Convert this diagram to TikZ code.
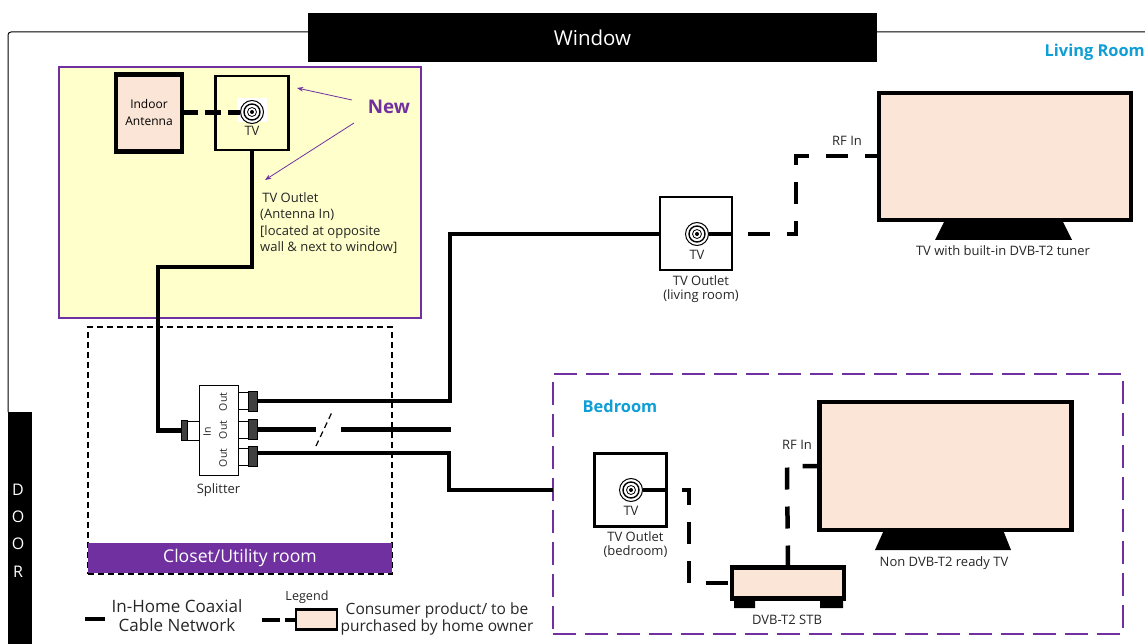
\documentclass[tikz,border=0pt]{standalone}
\usepackage{fontspec}
\setmainfont{Open Sans}
\usetikzlibrary{arrows.meta,positioning}
\definecolor{HomePurple}{HTML}{7030A0}
\definecolor{HomeCyan}{HTML}{0F9ED5}
\definecolor{HomeYellow}{HTML}{FFFFCC}
\definecolor{HomePeach}{HTML}{FBE5D6}
\tikzset{
  homelabel/.style={font=\fontsize{13}{14}\selectfont,align=center,inner sep=0pt,text=black!85},
  homeroom/.style={homelabel,font=\fontsize{16.4}{18}\bfseries\selectfont,text=HomeCyan},
  homeoutlet/.style={draw,line width=2.8pt,fill=white,minimum width=72pt,minimum height=73pt,inner sep=0pt,outer sep=0pt},
  homeproduct/.style={draw,line width=4.5pt,fill=HomePeach,inner sep=0pt,outer sep=0pt},
  homesocket/.style={circle,fill=white,minimum size=24pt,inner sep=0pt,outer sep=0pt},
  homeport/.style={draw,line width=.8pt,fill=white,inner sep=0pt,outer sep=0pt},
  homeplug/.style={fill=black!75,draw=black,line width=1pt,minimum width=9pt,minimum height=20pt,inner sep=0pt,outer sep=0pt},
  homecable/.style={line width=4.5pt,draw=black},
  homedash/.style={line width=4.5pt,draw=black,dash pattern=on 22pt off 17pt},
  homenew/.style={-{Stealth[length=2.2mm]},draw=HomePurple,line width=.8pt}
}
\begin{document}
\begin{tikzpicture}[x=1pt,y=-1pt]
        \useasboundingbox (0,0) rectangle (1145,644);
        % walls
        \draw[line width=1pt,rounded corners=3pt] (1145,32) -- (8,32) -- (8,412);
        \node[fill=black,minimum width=569pt,minimum height=49pt,text=white,inner sep=0pt,font=\fontsize{20.5}{22}\selectfont] (window) at (592.5,37.5) {Window};
        \node[fill=black,minimum width=24pt,minimum height=232pt,inner sep=0pt] (door) at (20,528) {};
        \foreach \letter/\ypos in {D/490,O/517,O/544,R/572}
          \node[text=white,inner sep=0pt,font=\fontsize{16}{18}\selectfont] at (18,\ypos) {\letter};
        \node[homeroom,anchor=east] (livinglabel) at (1145,52) {Living Room};
        % closet and yellow corner
        \node[draw,dash pattern=on 6pt off 4pt,line width=1.2pt,minimum width=304pt,minimum height=247pt,inner sep=0pt] (closet) at (240,450.5) {};
        \node[fill=HomePurple,minimum width=304pt,minimum height=30pt,inner sep=0pt,text=white,font=\fontsize{17.6}{20}\selectfont] (closetbar) at (240,558) {Closet/Utility room};
        \node[draw=HomePurple,fill=HomeYellow,line width=2pt,minimum width=362pt,minimum height=251pt,inner sep=0pt] (newarea) at (240,192.5) {};
        \node[font=\fontsize{18.8}{20}\bfseries\selectfont,text=HomePurple,inner sep=0pt] (newlabel) at (389,107) {New};
        \node[homeproduct,minimum width=66pt,minimum height=77pt,align=center,font=\fontsize{12}{17}\selectfont] (antenna) at (149,113) {Indoor\\Antenna};
        \node[homeoutlet,fill=HomeYellow,minimum height=74pt,minimum width=73pt] (outletnew) at (252,113) {};
        \node[fill=white,minimum width=30pt,minimum height=24pt,inner sep=0pt] (socketbg) at (252,110) {};
        \node[homesocket] (socketnew) at (252,112) {};
        \node[homelabel,below=2pt of socketnew] (tvnew) {TV};
        \node[homelabel,align=left,anchor=north west,font=\fontsize{13}{16.5}\selectfont] (outletnote) at (260,192) {\,TV Outlet\\(Antenna In)\\{[located at opposite}\\wall \& next to window{]}};
        \coordinate (newtipA) at (297,88);
        \coordinate (newtipB) at (265,180);
        \coordinate (newtailA) at (352,100);
        \coordinate (newtailB) at (354,123);
        \draw[homenew] (newtailA) -- (newtipA);
        \draw[homenew] (newtailB) -- (newtipB);
        % splitter
        \node[homeport,minimum width=39pt,minimum height=90pt] (splitter) at (218.5,430) {};
        \node[homelabel,below=8pt of splitter] (splitterlabel) {Splitter};
        \node[homelabel,rotate=90,font=\fontsize{10.5}{12}\selectfont] (inlabel) at (207,432) {In};
        \node[homelabel,rotate=90,font=\fontsize{10.5}{12}\selectfont] (outlabelA) at (223,402) {Out};
        \node[homelabel,rotate=90,font=\fontsize{10.5}{12}\selectfont] (outlabelB) at (223,430) {Out};
        \node[homelabel,rotate=90,font=\fontsize{10.5}{12}\selectfont] (outlabelC) at (223,458) {Out};
        \foreach \portname/\ypos in {A/401,B/429.5,C/456.5} {
          \node[homeport,minimum width=10pt,minimum height=17pt] (port\portname) at (243,\ypos) {};
          \node[homeplug] (plug\portname) at (252.5,\ypos) {};
        }
        \node[homeport,minimum width=13pt,minimum height=19pt] (portin) at (192.5,430.5) {};
        \node[homeplug,minimum width=6pt] (plugin) at (184,430.5) {};
        % living room
        \node[homeoutlet] (outletliving) at (696,233.5) {};
        \node[homesocket] (socketliving) at (697,234) {};
        \node[homelabel,below=4pt of socketliving] (tvliving) {TV};
        \node[homelabel,below=5pt of outletliving,xshift=5pt] (outletlivinglabel) {TV Outlet\\(living room)};
        \node[homeproduct,minimum width=252pt,minimum height=127pt] (tvset) at (1005,156.5) {};
        \fill (945,220) -- (1062,220) -- (1072,240) -- (935,240) -- cycle;
        \node[homelabel] (tvsetlabel) at (1003,251) {TV with built-in DVB-T2 tuner};
        \node[homelabel] (rflabel) at (847,141) {RF In};
        \coordinate (tvbend) at (796,234);
        % bedroom
        \node[draw=HomePurple,line width=2.4pt,dash pattern=on 23pt off 9pt,minimum width=570pt,minimum height=260pt,inner sep=0pt,outer sep=0pt] (bedroom) at (838,504) {};
        \node[homeroom] (bedroomlabel) at (620,406) {Bedroom};
        \node[homeoutlet] (outletbed) at (630.5,490) {};
        \node[homesocket] (socketbed) at (631,490) {};
        \node[homelabel,below=4pt of socketbed] (tvbed) {TV};
        \node[homelabel,below=5pt of outletbed,xshift=5pt] (outletbedlabel) {TV Outlet\\(bedroom)};
        \node[homeproduct,minimum width=252pt,minimum height=128pt] (tvbedset) at (945.5,466) {};
        \fill (884,530) -- (1003,530) -- (1011,550) -- (875,550) -- cycle;
        \node[homelabel] (tvbedlabel) at (944,563) {Non DVB-T2 ready TV};
        \node[homelabel] (rfbedlabel) at (797,445) {RF In};
        \node[homeproduct,minimum width=112pt,minimum height=31pt] (stb) at (788,583) {};
        \fill (734,600) rectangle (755,608) (820,600) rectangle (843,608);
        \node[homelabel] (stblabel) at (787,620) {DVB-T2 STB};
        % sockets
        \foreach \socketname in {socketnew,socketliving,socketbed} {
          \draw[line width=1pt] (\socketname) circle (11.5pt);
          \draw[line width=1.4pt] (\socketname) circle (8pt);
          \draw[line width=.8pt] (\socketname) circle (4.5pt);
          \fill (\socketname) circle (2pt);
        }
        % cables
        \draw[homecable] (outletnew.south) |- (158,267) -- (158,430.5) -- (plugin.west);
        \draw[homecable] (plugA.east |- 0,401) -| (450,234) -- (outletliving.west |- 0,234);
        \draw[homecable] (plugB.east) -- (316,429.5);
        \draw[homecable] (341,429.5) -- (451,429.5);
        \draw[line width=1.2pt,dash pattern=on 6pt off 4pt] (316,446) -- (333,410);
        \draw[homecable] (plugC.east |- 0,453) -- (449,453) -- (449,490) -- (bedroom.west |- 0,490);
        \draw[line width=5pt,dash pattern=on 16pt off 7pt] (antenna.east) -- (socketnew.west |- antenna.east);
        \draw[homedash] (socketliving.east) -- (tvbend) -- (796,156) -- (tvset.west |- 0,156);
        \draw[homedash] (socketbed.east) -- (689,490) -- (689,583) -- (stb.west);
        \draw[homedash] (stb.north) -- (787,466) -- (tvbedset.west |- 0,466);
        % legend
        \node[homelabel,font=\fontsize{17}{19}\selectfont] (legendcable) at (177,616) {In-Home Coaxial\\Cable Network};
        \coordinate (legendstart) at (85,619);
        \draw[homecable] (legendstart) -- (105,619);
        \node[homelabel,font=\fontsize{12.6}{14}\selectfont] (legendtitle) at (307,597) {Legend};
        \node[homeproduct,line width=2.6pt,minimum width=41pt,minimum height=20pt] (legendbox) at (316.5,619.5) {};
        \draw[line width=4pt,dash pattern=on 18pt off 5pt] (262,619.5) -- (legendbox.west);
        \node[homelabel,font=\fontsize{15.5}{17}\selectfont] (legendtext) at (437,618.5) {Consumer product/ to be\\purchased by home owner};
      \end{tikzpicture}
\end{document}
